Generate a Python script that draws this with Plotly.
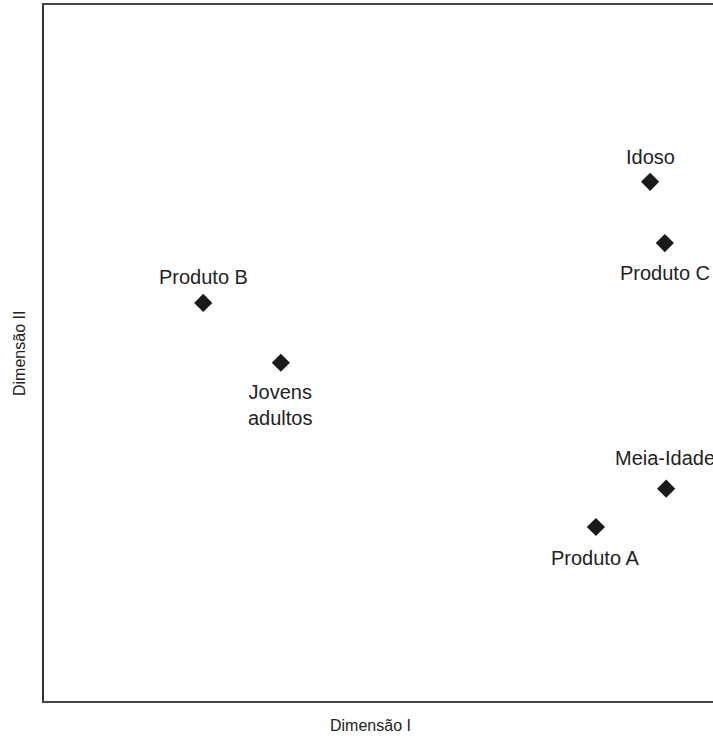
import plotly.graph_objects as go

# Data (arbitrary 0-100 units)
labels = ["Idoso", "Produto C", "Produto B", "Jovens<br>adultos", "Meia-Idade", "Produto A"]
dim1 = [90.6, 92.8, 23.8, 35.4, 93.0, 82.5]
dim2 = [74.6, 65.8, 57.2, 48.6, 30.5, 25.0]
# label offsets in pixels (label placement relative to marker)
label_dy = [25, -30, 26, -42, 31, -31]
label_dx = [0, 0, 0, 0, -1, 0]

x_title = "Dimensão I"
y_title = "Dimensão II"

W, H = 713, 738
ML, MR, MT, MB = 44, 0, 5, 37

fig = go.Figure()
fig.add_trace(go.Scatter(
    x=dim1, y=dim2, mode="markers",
    marker=dict(symbol="diamond", size=14, color="#1a1a1a", line=dict(width=0)),
    hoverinfo="skip", showlegend=False,
))

font = dict(family="Liberation Sans, Arial, sans-serif", size=20, color="#222")
tfont = dict(family="Liberation Sans, Arial, sans-serif", size=16, color="#222")

for lab, x, y, dy, dx in zip(labels, dim1, dim2, label_dy, label_dx):
    fig.add_annotation(x=x, y=y, text=lab, showarrow=False, xshift=dx, yshift=dy,
                       font=font, align="center", xanchor="center", yanchor="middle")

pw = W - ML - MR
ph = H - MT - MB
fig.add_annotation(xref="paper", yref="paper", x=(370 - ML) / pw, y=-(725 - (H - MB)) / ph,
                   text=x_title, showarrow=False, font=tfont, xanchor="center", yanchor="middle")
fig.add_annotation(xref="paper", yref="paper", x=(20 - ML) / pw, y=((H - MB) - 354) / ph,
                   text=y_title, showarrow=False, font=tfont, textangle=-90,
                   xanchor="center", yanchor="middle")

fig.update_xaxes(range=[0, 100], showline=True, mirror=True, linecolor="#444", linewidth=1.5,
                 showgrid=False, zeroline=False, showticklabels=False, ticks="")
fig.update_yaxes(range=[0, 100], showline=True, mirror=False, linecolor="#333", linewidth=1.5,
                 showgrid=False, zeroline=False, showticklabels=False, ticks="")

fig.update_layout(width=W, height=H, margin=dict(l=ML, r=MR, t=MT, b=MB),
                  plot_bgcolor="white", paper_bgcolor="white")

fig.write_html("out.html", config={"displayModeBar": False},
               post_script="document.body.style.margin='0';document.body.style.overflow='hidden';")
